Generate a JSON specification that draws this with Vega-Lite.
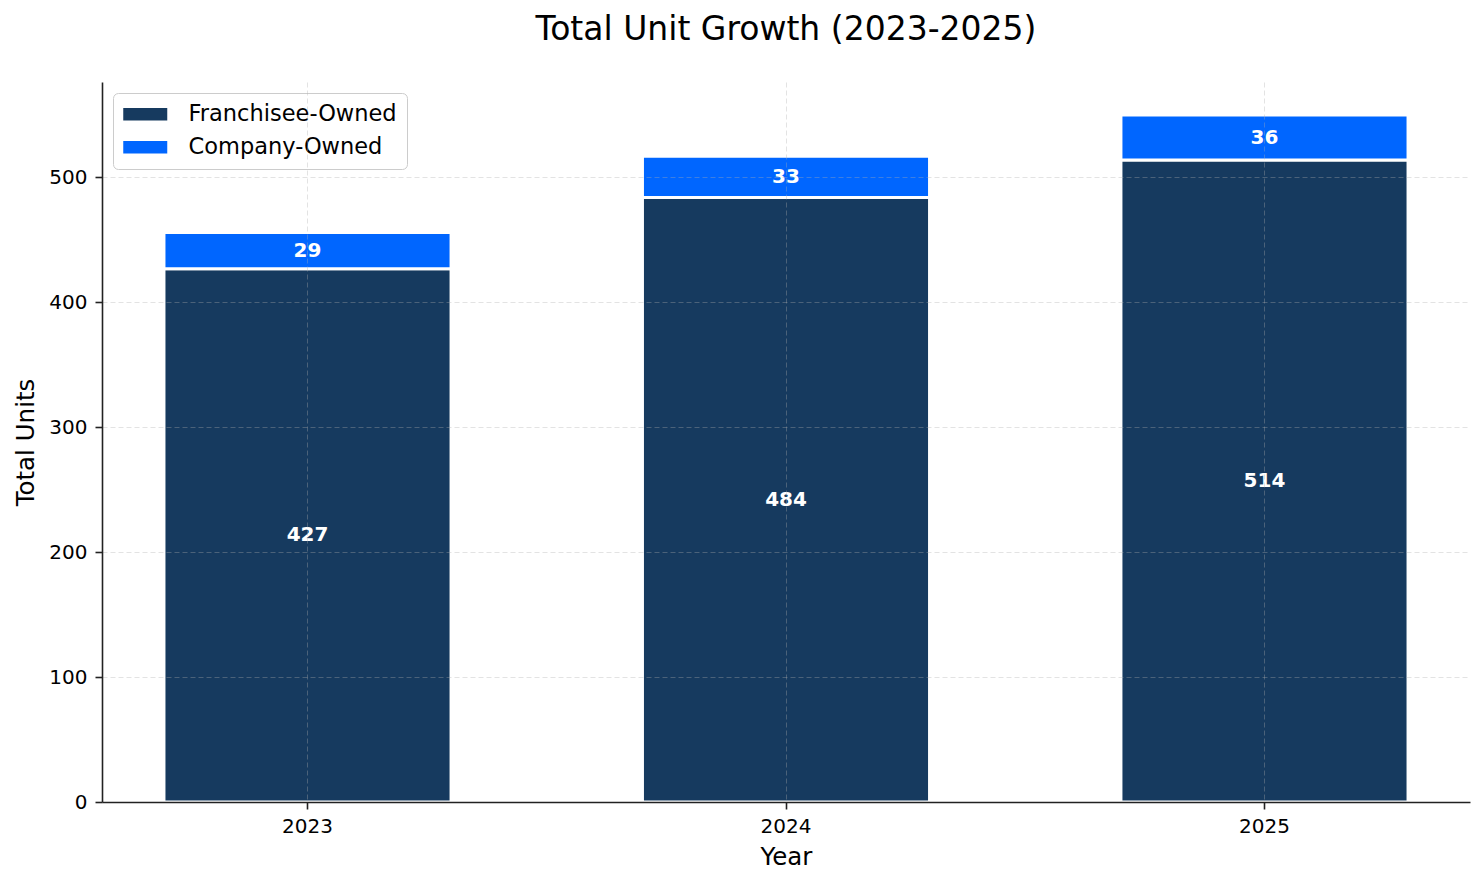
{
  "$schema": "https://vega.github.io/schema/vega-lite/v6.json",
  "width": 1368,
  "height": 720,
  "autosize": {"type": "none"},
  "padding": {"left": 102, "top": 82, "right": 14, "bottom": 82},
  "background": "white",
  "title": {
    "text": "Total Unit Growth (2023-2025)",
    "font": "DejaVu Sans",
    "fontSize": 33,
    "fontWeight": "normal",
    "color": "#000000",
    "anchor": "middle",
    "baseline": "alphabetic",
    "offset": 9
  },
  "config": {
    "view": {"stroke": null},
    "font": "DejaVu Sans",
    "axis": {
      "labelFont": "DejaVu Sans",
      "titleFont": "DejaVu Sans",
      "labelFontSize": 20,
      "titleFontSize": 24.5,
      "titleFontWeight": "normal",
      "labelColor": "#000000",
      "titleColor": "#000000",
      "domainColor": "#222222",
      "domainWidth": 1.6,
      "tickColor": "#222222",
      "tickWidth": 1.6,
      "tickSize": 7,
      "gridColor": "#b0b0b0",
      "gridOpacity": 0.35,
      "gridWidth": 1,
      "gridDash": [5, 3]
    }
  },
  "data": {
    "values": [
      {"year": "2023", "type": "Franchisee-Owned", "units": 427},
      {"year": "2023", "type": "Company-Owned", "units": 29},
      {"year": "2024", "type": "Franchisee-Owned", "units": 484},
      {"year": "2024", "type": "Company-Owned", "units": 33},
      {"year": "2025", "type": "Franchisee-Owned", "units": 514},
      {"year": "2025", "type": "Company-Owned", "units": 36}
    ]
  },
  "transform": [
    {"stack": "units", "groupby": ["year"], "sort": [{"field": "type", "order": "descending"}], "as": ["y0", "y1"]},
    {"calculate": "(datum.y0 + datum.y1) / 2", "as": "mid"}
  ],
  "encoding": {
    "x": {
      "field": "year",
      "type": "ordinal",
      "scale": {"paddingInner": 0.4, "paddingOuter": 0.1295},
      "axis": {
        "title": "Year",
        "labelAngle": 0,
        "labelPadding": 7,
        "titlePadding": 9,
        "grid": true,
        "zindex": 1
      }
    }
  },
  "layer": [
    {
      "mark": {"type": "bar", "stroke": "white", "strokeWidth": 3},
      "encoding": {
        "y": {
          "field": "y0",
          "type": "quantitative",
          "scale": {"domain": [0, 576.45], "nice": false, "zero": true},
          "axis": {
            "title": "Total Units",
            "values": [0, 100, 200, 300, 400, 500],
            "labelPadding": 8,
            "titlePadding": 10,
            "grid": true,
            "zindex": 1
          }
        },
        "y2": {"field": "y1"},
        "color": {
          "field": "type",
          "type": "nominal",
          "scale": {"domain": ["Franchisee-Owned", "Company-Owned"], "range": ["#163a5f", "#0066ff"]},
          "legend": {
            "title": null,
            "orient": "none",
            "legendX": 11,
            "legendY": 11,
            "fillColor": "rgba(255,255,255,0.8)",
            "strokeColor": "#cccccc",
            "cornerRadius": 5,
            "padding": 10,
            "labelFont": "DejaVu Sans",
            "labelFontSize": 22.5,
            "labelColor": "#000000",
            "labelLimit": 500,
            "labelOffset": 43,
            "symbolType": "M-1,-0.56H3V0.56H-1Z",
            "symbolSize": 484,
            "symbolStrokeWidth": 0,
            "symbolOpacity": 1,
            "rowPadding": 10
          }
        }
      }
    },
    {
      "mark": {"type": "text", "color": "white", "fontWeight": "bold", "fontSize": 20, "font": "DejaVu Sans", "baseline": "middle", "align": "center"},
      "encoding": {
        "y": {"field": "mid", "type": "quantitative"},
        "text": {"field": "units", "type": "quantitative"}
      }
    }
  ]
}
